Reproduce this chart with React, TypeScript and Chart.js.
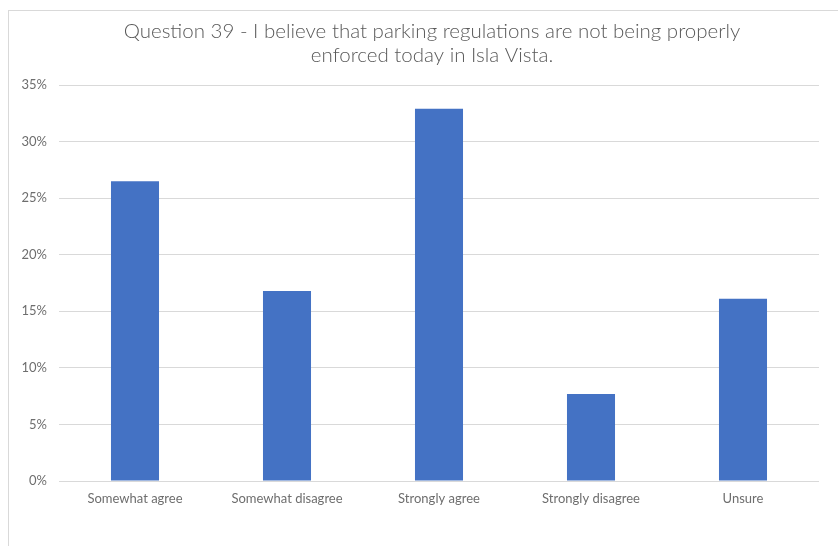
import React, { useEffect, useRef } from "react";
import { Chart, registerables } from "chart.js";

Chart.register(...registerables);

const categories = ["Somewhat agree", "Somewhat disagree", "Strongly agree", "Strongly disagree", "Unsure"];
const values = [26.5, 16.8, 32.9, 7.7, 16.1];
const titleLines = [
  "Question 39 - I believe that parking regulations are not being properly",
  "enforced today in Isla Vista.",
];

export default function App() {
  const ref = useRef<HTMLCanvasElement | null>(null);
  useEffect(() => {
    if (!ref.current) return;
    const chart = new Chart(ref.current, {
      type: "bar",
      data: {
        labels: categories,
        datasets: [
          {
            data: values,
            backgroundColor: "#4472C4",
            barPercentage: 0.316,
            categoryPercentage: 1,
          },
        ],
      },
      options: {
        animation: false,
        responsive: false,
        layout: { padding: { left: 0, right: 0, top: 9, bottom: 0 } },
        plugins: {
          legend: { display: false },
          tooltip: { enabled: false },
          title: {
            display: true,
            text: titleLines,
            color: "#595959",
            font: { family: "Lato", size: 20.5, weight: 300, lineHeight: "23.5px" },
            padding: { top: 0, bottom: 18 },
          },
        },
        scales: {
          x: {
            grid: { display: false },
            border: { display: false },
            ticks: {
              color: "#6e6e6e",
              font: { family: "Lato", size: 13 },
              padding: 2,
              maxRotation: 0,
            },
            afterFit: (s: any) => {
              s.height = 70;
            },
          },
          y: {
            min: 0,
            max: 35,
            border: { display: false },
            grid: { color: "#d9d9d9", drawTicks: false },
            ticks: {
              stepSize: 5,
              color: "#6e6e6e",
              font: { family: "Lato", size: 13 },
              padding: 12,
              callback: (v: any) => v + "%",
            },
            afterFit: (s: any) => {
              s.width = 50;
            },
          },
          spacer: {
            type: "linear",
            position: "right",
            display: true,
            grid: { display: false, drawTicks: false },
            border: { display: false },
            ticks: { display: false },
            afterFit: (s: any) => {
              s.width = 36;
            },
          },
        },
      },
    });
    return () => chart.destroy();
  }, []);
  return (
    <div style={{ position: "fixed", left: 0, top: 0, width: 838, height: 546, overflow: "hidden", background: "#fff" }}>
      <div
        style={{
          position: "absolute",
          left: 8,
          top: 10,
          width: 846,
          height: 540,
          border: "1px solid #d9d9d9",
        }}
      >
        <canvas ref={ref} width={846} height={540} style={{ display: "block" }} />
      </div>
    </div>
  );
}
